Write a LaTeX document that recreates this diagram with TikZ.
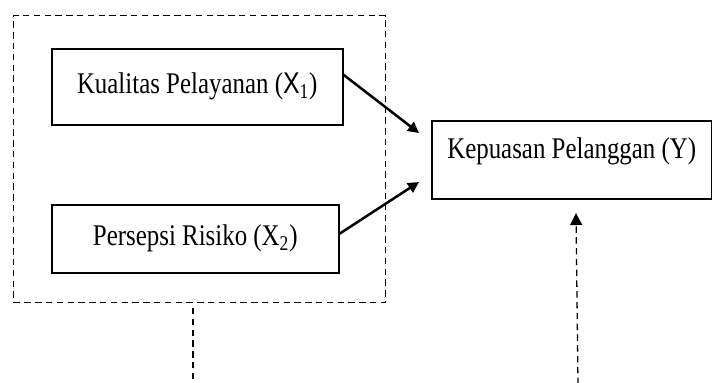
\documentclass[tikz,border=0pt]{standalone}
\usepackage{fontspec}
\setmainfont{Liberation Serif}
\setsansfont{Liberation Sans}
\usepackage{graphicx}
\usetikzlibrary{arrows.meta}
\newcommand{\lbl}[1]{\scalebox{0.83}[1]{#1}}
\begin{document}
\begin{tikzpicture}[x=0.5pt,y=-0.5pt,
  box/.style={draw, line width=0.75pt, inner sep=0pt, anchor=north west,
    font=\fontsize{15}{18}\selectfont},
  dashline/.style={dash pattern=on 3.2pt off 2.2pt, line width=0.65pt},
  arr/.style={-{Triangle[length=5.5pt,width=5.5pt]}, line width=1.25pt},
  darr/.style={dashline, -{Triangle[length=6pt,width=6pt]}}]
\useasboundingbox (0,0) rectangle (712,382);
% group box
\node (grp) [draw, dashline, inner sep=0pt, anchor=north west,
  minimum width=186pt, minimum height=143.5pt] at (13,15) {};
% boxes
\node (k1) [box, minimum width=145.5pt, minimum height=38pt] at (51,48)
  {\lbl{Kualitas Pelayanan (\textsf{X}\textsubscript{1})}};
\node (k2) [box, minimum width=143.5pt, minimum height=34pt] at (51,204)
  {\lbl{Persepsi Risiko (X\textsubscript{2})}};
\node (ky) [box, minimum width=140pt, minimum height=0pt, text height=19pt,
  text depth=20pt] at (431,120) {\lbl{Kepuasan Pelanggan (Y)}};
% arrow tips
\coordinate (t1) at (419,133);
\coordinate (t2) at (419,182);
\draw[arr] ([yshift=6pt]k1.east) -- (t1);
\draw[arr] ([yshift=2.5pt]k2.east) -- (t2);
% dashed lines
\coordinate (d1top) at (193,308);
\coordinate (d1bot) at (193,384);
\draw[dashline] (d1top) -- (d1bot);
\coordinate (d2bot) at (578,384);
\coordinate (d2top) at (576,213);
\draw[darr] (d2bot) -- (d2top);
\end{tikzpicture}
\end{document}
